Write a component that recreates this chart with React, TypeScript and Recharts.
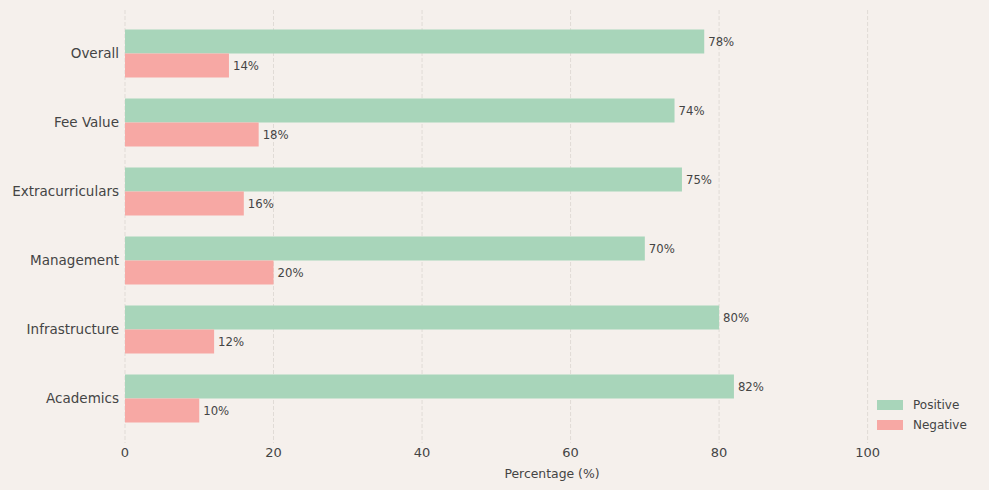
import { BarChart, Bar, XAxis, YAxis, CartesianGrid, Legend, LabelList } from 'recharts';

const categories = ['Overall', 'Fee Value', 'Extracurriculars', 'Management', 'Infrastructure', 'Academics'];
const positive = [78, 74, 75, 70, 80, 82];
const negative = [14, 18, 16, 20, 12, 10];
const xTicks = [0, 20, 40, 60, 80, 100];

const data = categories.map((name, i) => ({ name, Positive: positive[i], Negative: negative[i] }));

const BG = '#f5f0ec';
const TEXT = '#444444';
const GREEN = '#a8d5ba';
const PINK = '#f7a8a4';
const FONT = '"DejaVu Sans", sans-serif';

const LegendBox = () => (
  <div style={{ fontFamily: FONT, fontSize: 12, color: TEXT }}>
    {[
      { label: 'Positive', color: GREEN },
      { label: 'Negative', color: PINK },
    ].map((item) => (
      <div key={item.label} style={{ display: 'flex', alignItems: 'center', height: 20 }}>
        <span style={{ display: 'inline-block', width: 26, height: 10, background: item.color, marginRight: 10 }} />
        <span>{item.label}</span>
      </div>
    ))}
  </div>
);

const App = () => (
  <div style={{ position: 'absolute', left: 0, top: 0, width: 989, height: 490, background: BG }}>
    <BarChart
      width={989}
      height={490}
      data={data}
      layout="vertical"
      margin={{ top: 10, right: 10, bottom: 10, left: 0 }}
      barGap={0}
    >
      {/* grid lines only at the labelled ticks */}
      <CartesianGrid horizontal={false} syncWithTicks stroke="#e0dbd6" strokeDasharray="4 2" />
      <XAxis
        type="number"
        domain={[0, 115]}
        ticks={xTicks}
        axisLine={false}
        tickLine={false}
        tickSize={0}
        tickMargin={5}
        height={37}
        tick={{ fill: TEXT, fontSize: 13, fontFamily: FONT }}
        label={{ value: 'Percentage (%)', position: 'insideBottom', offset: 2.5, fill: TEXT, fontSize: 12.4, fontFamily: FONT }}
      />
      <YAxis
        type="category"
        dataKey="name"
        width={125}
        padding={{ top: 8.5, bottom: 10.5 }}
        axisLine={false}
        tickLine={false}
        tickSize={0}
        tickMargin={6}
        tick={{ fill: TEXT, fontSize: 13.5, fontFamily: FONT }}
      />
      <Legend
        layout="vertical"
        align="center"
        verticalAlign="middle"
        content={() => <LegendBox />}
        wrapperStyle={{ left: 877, top: 395, width: 110 }}
      />
      <Bar dataKey="Positive" fill={GREEN} barSize={24} isAnimationActive={false}>
        <LabelList
          dataKey="Positive"
          position="right"
          offset={4}
          formatter={(v: number) => `${v}%`}
          style={{ fill: TEXT, fontSize: 11.7, fontFamily: FONT }}
        />
      </Bar>
      <Bar dataKey="Negative" fill={PINK} barSize={24} isAnimationActive={false}>
        <LabelList
          dataKey="Negative"
          position="right"
          offset={4}
          formatter={(v: number) => `${v}%`}
          style={{ fill: TEXT, fontSize: 11.7, fontFamily: FONT }}
        />
      </Bar>
    </BarChart>
  </div>
);

export default App;
